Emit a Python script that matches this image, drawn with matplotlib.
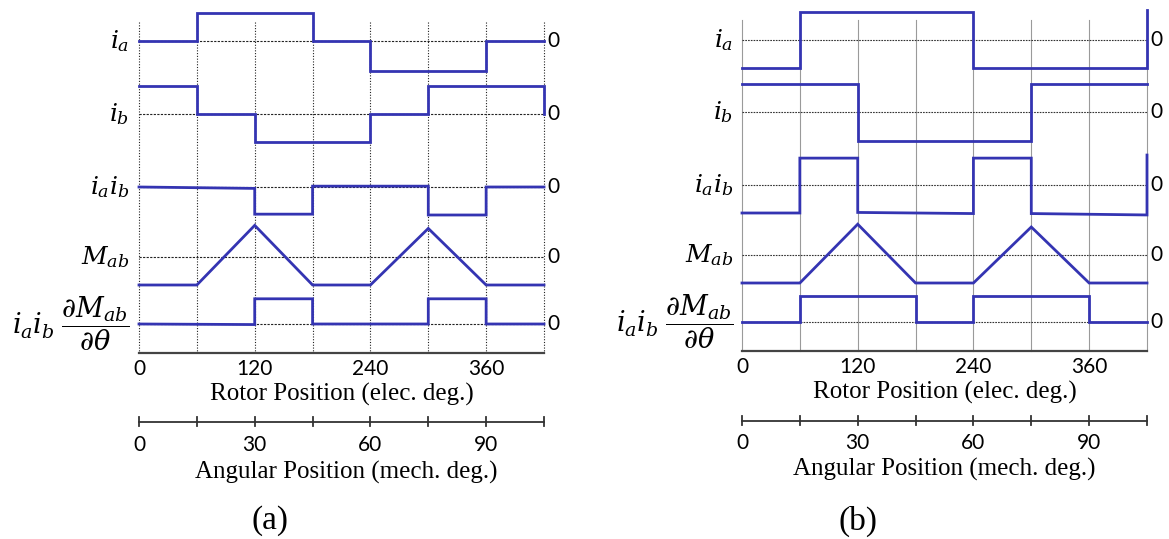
import matplotlib
matplotlib.use("Agg")
import matplotlib.pyplot as plt

plt.rcParams["mathtext.fontset"] = "dejavuserif"

# ---------------- data (electrical degrees / normalised levels) ----------------
# (a) 120-degree conduction
a_ia_x = [0, 60, 60, 180, 180, 240, 240, 360, 360, 420]
a_ia_y = [0, 0, 1, 1, 0, 0, -1.07, -1.07, 0, 0]
a_ib_x = [0, 60, 60, 120, 120, 240, 240, 300, 300, 420, 420]
a_ib_y = [1, 1, 0, 0, -1, -1, 0, 0, 1, 1, 0]
a_iaib_x = [0, 120, 120, 180, 180, 300, 300, 360, 360, 420]
a_iaib_y = [0, -0.05, -0.97, -0.97, 0.03, 0.03, -1.0, -1.0, 0, 0]
a_m_x = [0, 60, 120, 180, 240, 300, 360, 420]
a_m_y = [-1, -1, 1.13, -1, -1, 1.02, -1, -1]
a_t_x = [0, 120, 120, 180, 180, 300, 300, 360, 360, 420]
a_t_y = [0, -0.02, 0.9, 0.9, 0, 0, 0.9, 0.9, 0, 0]

# (b) 180-degree conduction
b_ia_x = [0, 60, 60, 240, 240, 420, 420]
b_ia_y = [-1, -1, 1, 1, -1, -1, 1.08]
b_ib_x = [0, 120, 120, 300, 300, 420]
b_ib_y = [1.01, 1.01, -1.04, -1.04, 1.01, 1.01]
b_iaib_x = [0, 60, 60, 120, 120, 240, 240, 300, 300, 420, 420]
b_iaib_y = [-1, -1, 0.96, 0.96, -0.98, -1.02, 0.96, 0.96, -1.02, -1.07, 1.07]
b_m_x = [0, 60, 120, 180, 240, 300, 360, 420]
b_m_y = [-1, -1, 1.1, -1, -1, 1.0, -1, -1]
b_t_x = [0, 60, 60, 180, 180, 240, 240, 360, 360, 420]
b_t_y = [0, 0, 0.93, 0.93, 0, 0, 0.93, 0.93, 0, 0]

row_labels = [r"$i_a$", r"$i_b$", r"$i_a i_b$", r"$M_{ab}$",
              r"$i_a i_b\;\dfrac{\partial M_{ab}}{\partial\theta}$"]
row_label_sizes = [18, 18, 18, 18, 19.5]
elec_ticks = [0, 120, 240, 360]
mech_ticks = [0, 30, 60, 90]
mech_minor = [0, 15, 30, 45, 60, 75, 90, 105]
grid_pos = [0, 60, 120, 180, 240, 300, 360, 420]

# ---------------- layout ----------------
W, H = 1169, 539
BLUE = "#3434B2"
UNIT = 28  # pixels per normalised level

fig = plt.figure(figsize=(W / 100, H / 100), dpi=100)

panels = [
    dict(x0=139, x1=544, rows=[41, 114, 187, 257, 324], top=22, axis_y=353,
         axis2_y=422, tick_y=369, title_y=394, tick2_y=445, title2_y=472,
         title2_dx=5, lab_x=129, tag="(a)", tag_x=270,
         traces=[(a_ia_x, a_ia_y), (a_ib_x, a_ib_y), (a_iaib_x, a_iaib_y),
                 (a_m_x, a_m_y), (a_t_x, a_t_y)],
         vgrid=dict(color="#222222", lw=0.8, ls=(0, (1, 1.5))),
         hgrid=dict(color="#222222", lw=0.8, ls=(0, (2, 1.2)))),
    dict(x0=742, x1=1147, rows=[40, 112, 185, 255, 322], top=20, axis_y=351,
         axis2_y=421, tick_y=367, title_y=392, tick2_y=443, title2_y=469,
         title2_dx=0, lab_x=733, tag="(b)", tag_x=858,
         traces=[(b_ia_x, b_ia_y), (b_ib_x, b_ib_y), (b_iaib_x, b_iaib_y),
                 (b_m_x, b_m_y), (b_t_x, b_t_y)],
         vgrid=dict(color="#9a9a9a", lw=0.8, ls="-"),
         hgrid=dict(color="#333333", lw=0.8, ls=(0, (1.5, 1)))),
]

for p in panels:
    ax = fig.add_axes([p["x0"] / W, 0, (p["x1"] - p["x0"]) / W, 1])
    ax.set_xlim(0, 420)
    ax.set_ylim(H, 0)
    ax.axis("off")

    def to_x(px):
        return (px - p["x0"]) / (p["x1"] - p["x0"]) * 420

    # vertical grid
    for g in grid_pos:
        ax.plot([g, g], [p["top"], p["axis_y"]], clip_on=False, zorder=1, **p["vgrid"])
    # zero lines and right-hand zero labels
    for base in p["rows"]:
        ax.plot([0, 420], [base, base], clip_on=False, zorder=1, **p["hgrid"])
        ax.text(to_x(p["x1"] + 3), base, "0", family="Lato", fontsize=15,
                ha="left", va="center", clip_on=False)
    # waveforms
    for (xs, ys), base in zip(p["traces"], p["rows"]):
        ax.plot(xs, [base - UNIT * v for v in ys], color=BLUE, lw=2.0,
                clip_on=False, zorder=3, solid_joinstyle="miter")
    # row labels
    for lab, size, base in zip(row_labels, row_label_sizes, p["rows"]):
        ax.text(to_x(p["lab_x"]), base, lab, fontsize=size, ha="right",
                va="center", clip_on=False)

    # electrical-degree axis
    ax.plot([0, 420], [p["axis_y"], p["axis_y"]], color="#444444", lw=1.6,
            clip_on=False, zorder=2)
    for t in elec_ticks:
        ax.text(t, p["tick_y"], str(t), family="Lato", fontsize=15,
                ha="center", va="center", clip_on=False)
    ax.text(210, p["title_y"], "Rotor Position (elec. deg.)",
            family="Liberation Serif", fontsize=18, ha="center", va="center",
            clip_on=False)

    # mechanical-degree axis (elec = 4 x mech)
    ax.plot([0, 420], [p["axis2_y"], p["axis2_y"]], color="#333333", lw=1.3,
            clip_on=False)
    for m in mech_minor:
        ax.plot([4 * m, 4 * m], [p["axis2_y"] - 5, p["axis2_y"] + 4],
                color="#333333", lw=1.3, clip_on=False)
    for m in mech_ticks:
        ax.text(4 * m, p["tick2_y"], str(m), family="Lato", fontsize=15,
                ha="center", va="center", clip_on=False)
    ax.text(210 + to_x(p["x0"] + p["title2_dx"]), p["title2_y"],
            "Angular Position (mech. deg.)", family="Liberation Serif",
            fontsize=18, ha="center", va="center", clip_on=False)

    ax.text(to_x(p["tag_x"]), 521, p["tag"], family="Liberation Serif",
            fontsize=24, ha="center", va="center", clip_on=False)

fig.savefig("out.png", dpi=100)
